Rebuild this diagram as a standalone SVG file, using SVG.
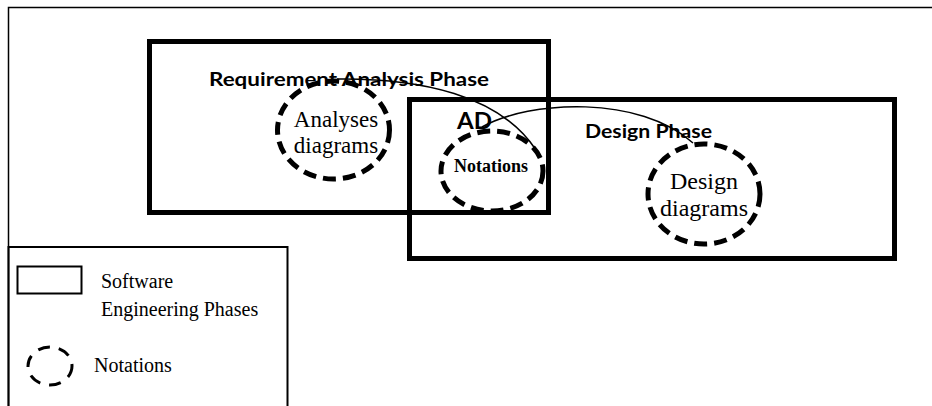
<svg xmlns="http://www.w3.org/2000/svg" width="932" height="406" viewBox="0 0 932 406">
  <style>
    .phase { fill: none; stroke: #000; stroke-width: 5; }
    .notation { fill: none; stroke: #000; stroke-width: 5; stroke-dasharray: 13 7; }
    .frame { fill: none; stroke: #000; stroke-width: 1.5; }
    .link { fill: none; stroke: #000; stroke-width: 1.5; }
    .label { font-family: Lato, "Liberation Sans", sans-serif; font-weight: bold; fill: #000; }
    .serif { font-family: "Liberation Serif", "Times New Roman", serif; fill: #000; }
  </style>
  <rect width="932" height="406" fill="#fff"/>

  <!-- outer frame -->
  <path class="frame" d="M8.5,406 V7.5 H932"/>

  <!-- phases -->
  <g id="requirement-phase">
    <rect class="phase" x="149.5" y="41.5" width="399" height="171"/>
    <text class="label" x="209" y="86" font-size="18.5" textLength="280" lengthAdjust="spacingAndGlyphs">Requirement Analysis Phase</text>
  </g>
  <g id="design-phase">
    <rect class="phase" x="409.5" y="99.5" width="485" height="159"/>
    <text class="label" x="585" y="138" font-size="18.5" textLength="127" lengthAdjust="spacingAndGlyphs">Design Phase</text>
  </g>
  <g id="ad">
    <text class="label" x="457" y="128.5" font-size="23" textLength="35" lengthAdjust="spacingAndGlyphs">AD</text>
  </g>

  <!-- notations -->
  <g id="analyses-diagrams">
    <ellipse class="notation" cx="333.5" cy="130" rx="56" ry="49"/>
    <text class="serif" x="336" y="127" font-size="23" text-anchor="middle">Analyses</text>
    <text class="serif" x="336" y="153" font-size="23" text-anchor="middle">diagrams</text>
  </g>
  <g id="ad-notations">
    <ellipse class="notation" cx="492" cy="171" rx="51" ry="40"/>
    <text class="serif" x="491" y="172" font-size="18" font-weight="bold" text-anchor="middle">Notations</text>
  </g>
  <g id="design-diagrams">
    <ellipse class="notation" cx="704" cy="194" rx="56" ry="50"/>
    <text class="serif" x="704" y="189" font-size="24" text-anchor="middle">Design</text>
    <text class="serif" x="704" y="216" font-size="24" text-anchor="middle">diagrams</text>
  </g>

  <!-- connectors -->
  <g id="connectors">
    <path class="link" d="M337,79 C420,78 500,95 536,150"/>
    <path class="link" d="M482,127 C530,100 640,95 693,143"/>
  </g>

  <!-- legend -->
  <g id="legend">
    <path fill="none" stroke="#000" stroke-width="2" d="M8.5,406 V247 H287.5 V406"/>
    <rect x="17.5" y="266.5" width="64" height="27" fill="none" stroke="#000" stroke-width="2"/>
    <text class="serif" x="101" y="288" font-size="20">Software</text>
    <text class="serif" x="101" y="316" font-size="20">Engineering Phases</text>
    <ellipse cx="50" cy="366" rx="22" ry="19" fill="none" stroke="#000" stroke-width="3" stroke-dasharray="12 9"/>
    <text class="serif" x="94" y="372" font-size="20">Notations</text>
  </g>
</svg>
